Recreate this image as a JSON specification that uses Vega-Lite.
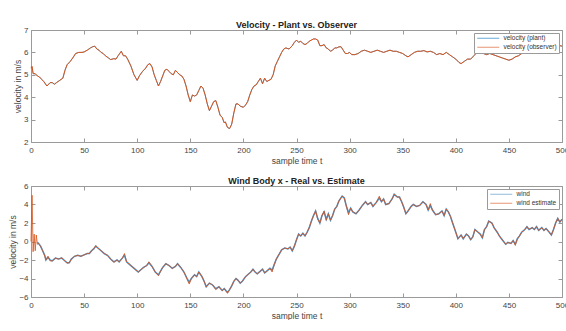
{
  "$schema": "https://vega.github.io/schema/vega-lite/v6.json",
  "padding": {"top": 21, "left": 8, "right": 0, "bottom": 0},
  "background": "white",
  "bounds": "flush",
  "spacing": 44,
  "datasets": {
    "vel": [
      {"t":0,"p":5.3,"o":5.3},{"t":1,"p":5.35,"o":5.38},{"t":2,"p":5.05,"o":5.05},{"t":4,"p":5.05,"o":5.05},{"t":6,"p":4.95,"o":4.95},{"t":8,"p":4.9,"o":4.9},{"t":10,"p":4.8,"o":4.8},{"t":12,"p":4.7,"o":4.7},{"t":15,"p":4.5,"o":4.5},{"t":18,"p":4.65,"o":4.65},{"t":20,"p":4.65,"o":4.65},{"t":22,"p":4.58,"o":4.58},{"t":24,"p":4.65,"o":4.65},{"t":27,"p":4.75,"o":4.75},{"t":30,"p":4.85,"o":4.85},{"t":32,"p":5.2,"o":5.2},{"t":34,"p":5.45,"o":5.45},{"t":37,"p":5.6,"o":5.6},{"t":40,"p":5.8,"o":5.8},{"t":42,"p":5.95,"o":5.95},{"t":45,"p":6.0,"o":6.0},{"t":48,"p":6.0,"o":6.0},{"t":50,"p":6.02,"o":6.02},{"t":53,"p":6.1,"o":6.1},{"t":56,"p":6.2,"o":6.2},{"t":58,"p":6.25,"o":6.25},{"t":60,"p":6.28,"o":6.28},{"t":62,"p":6.15,"o":6.15},{"t":64,"p":6.1,"o":6.1},{"t":66,"p":6.0,"o":6.0},{"t":68,"p":5.95,"o":5.95},{"t":70,"p":5.85,"o":5.85},{"t":73,"p":5.75,"o":5.75},{"t":75,"p":5.68,"o":5.68},{"t":78,"p":5.72,"o":5.72},{"t":80,"p":5.7,"o":5.7},{"t":82,"p":5.85,"o":5.85},{"t":85,"p":6.05,"o":6.05},{"t":87,"p":5.85,"o":5.85},{"t":89,"p":5.85,"o":5.85},{"t":91,"p":5.7,"o":5.7},{"t":94,"p":5.4,"o":5.4},{"t":97,"p":5.0,"o":5.0},{"t":100,"p":4.75,"o":4.75},{"t":102,"p":4.95,"o":4.95},{"t":105,"p":5.15,"o":5.15},{"t":108,"p":5.3,"o":5.3},{"t":110,"p":5.45,"o":5.45},{"t":112,"p":5.5,"o":5.5},{"t":114,"p":5.35,"o":5.35},{"t":116,"p":5.0,"o":5.0},{"t":118,"p":4.75,"o":4.75},{"t":120,"p":4.5,"o":4.5},{"t":122,"p":4.7,"o":4.7},{"t":124,"p":4.95,"o":4.95},{"t":126,"p":5.2,"o":5.2},{"t":128,"p":5.25,"o":5.25},{"t":130,"p":5.15,"o":5.15},{"t":132,"p":5.05,"o":5.05},{"t":134,"p":5.0,"o":5.0},{"t":136,"p":5.2,"o":5.2},{"t":138,"p":5.1,"o":5.1},{"t":140,"p":5.0,"o":5.0},{"t":142,"p":4.95,"o":4.95},{"t":144,"p":4.8,"o":4.8},{"t":146,"p":4.5,"o":4.5},{"t":148,"p":4.1,"o":4.1},{"t":150,"p":3.8,"o":3.8},{"t":152,"p":4.1,"o":4.1},{"t":154,"p":4.05,"o":4.05},{"t":156,"p":4.1,"o":4.1},{"t":158,"p":4.3,"o":4.3},{"t":160,"p":4.5,"o":4.5},{"t":162,"p":4.4,"o":4.4},{"t":164,"p":4.1,"o":4.1},{"t":166,"p":3.7,"o":3.7},{"t":168,"p":3.4,"o":3.4},{"t":170,"p":3.6,"o":3.6},{"t":172,"p":3.8,"o":3.8},{"t":174,"p":3.85,"o":3.85},{"t":176,"p":3.55,"o":3.55},{"t":178,"p":3.2,"o":3.2},{"t":180,"p":3.1,"o":3.1},{"t":182,"p":2.85,"o":2.85},{"t":183,"p":2.9,"o":2.9},{"t":185,"p":2.65,"o":2.65},{"t":187,"p":2.6,"o":2.6},{"t":189,"p":2.8,"o":2.8},{"t":191,"p":3.3,"o":3.3},{"t":193,"p":3.7,"o":3.7},{"t":195,"p":3.7,"o":3.7},{"t":197,"p":3.6,"o":3.6},{"t":200,"p":3.55,"o":3.55},{"t":202,"p":3.65,"o":3.65},{"t":204,"p":3.8,"o":3.8},{"t":206,"p":4.1,"o":4.1},{"t":208,"p":4.35,"o":4.35},{"t":210,"p":4.5,"o":4.5},{"t":212,"p":4.55,"o":4.55},{"t":214,"p":4.7,"o":4.7},{"t":216,"p":4.85,"o":4.85},{"t":218,"p":4.6,"o":4.6},{"t":220,"p":4.85,"o":4.85},{"t":222,"p":4.7,"o":4.7},{"t":224,"p":4.75,"o":4.75},{"t":226,"p":4.8,"o":4.8},{"t":228,"p":5.0,"o":5.0},{"t":230,"p":5.4,"o":5.4},{"t":232,"p":5.6,"o":5.6},{"t":234,"p":5.8,"o":5.8},{"t":236,"p":6.0,"o":6.0},{"t":238,"p":6.15,"o":6.15},{"t":240,"p":6.2,"o":6.2},{"t":243,"p":6.15,"o":6.15},{"t":246,"p":6.3,"o":6.3},{"t":248,"p":6.45,"o":6.45},{"t":250,"p":6.55,"o":6.55},{"t":252,"p":6.45,"o":6.45},{"t":254,"p":6.5,"o":6.5},{"t":256,"p":6.4,"o":6.4},{"t":258,"p":6.35,"o":6.35},{"t":260,"p":6.4,"o":6.4},{"t":262,"p":6.5,"o":6.5},{"t":264,"p":6.55,"o":6.55},{"t":266,"p":6.6,"o":6.6},{"t":268,"p":6.6,"o":6.6},{"t":270,"p":6.55,"o":6.55},{"t":272,"p":6.3,"o":6.3},{"t":274,"p":6.3,"o":6.3},{"t":276,"p":6.35,"o":6.35},{"t":278,"p":6.2,"o":6.2},{"t":280,"p":6.15,"o":6.15},{"t":282,"p":6.05,"o":6.05},{"t":284,"p":6.1,"o":6.1},{"t":286,"p":6.2,"o":6.2},{"t":288,"p":6.2,"o":6.2},{"t":290,"p":6.25,"o":6.25},{"t":292,"p":6.25,"o":6.25},{"t":294,"p":6.1,"o":6.1},{"t":296,"p":5.95,"o":5.95},{"t":298,"p":5.95,"o":5.95},{"t":300,"p":6.0,"o":6.0},{"t":302,"p":5.9,"o":5.9},{"t":305,"p":5.9,"o":5.9},{"t":308,"p":5.95,"o":5.95},{"t":311,"p":6.05,"o":6.05},{"t":314,"p":6.1,"o":6.1},{"t":317,"p":6.05,"o":6.05},{"t":320,"p":6.0,"o":6.0},{"t":323,"p":6.05,"o":6.05},{"t":326,"p":6.1,"o":6.1},{"t":329,"p":6.05,"o":6.05},{"t":332,"p":6.0,"o":6.0},{"t":335,"p":6.05,"o":6.05},{"t":338,"p":6.1,"o":6.1},{"t":341,"p":6.05,"o":6.05},{"t":344,"p":6.05,"o":6.05},{"t":347,"p":6.0,"o":6.0},{"t":350,"p":5.95,"o":5.95},{"t":353,"p":5.85,"o":5.85},{"t":355,"p":5.8,"o":5.8},{"t":358,"p":5.9,"o":5.9},{"t":361,"p":6.0,"o":6.0},{"t":364,"p":6.05,"o":6.05},{"t":367,"p":6.05,"o":6.05},{"t":370,"p":6.08,"o":6.08},{"t":373,"p":6.02,"o":6.02},{"t":376,"p":6.05,"o":6.05},{"t":379,"p":6.0,"o":6.0},{"t":382,"p":5.9,"o":5.9},{"t":385,"p":5.95,"o":5.95},{"t":388,"p":5.9,"o":5.9},{"t":391,"p":6.0,"o":6.0},{"t":394,"p":5.9,"o":5.9},{"t":397,"p":5.8,"o":5.8},{"t":400,"p":5.7,"o":5.7},{"t":403,"p":5.55,"o":5.55},{"t":405,"p":5.5,"o":5.5},{"t":408,"p":5.6,"o":5.6},{"t":411,"p":5.7,"o":5.7},{"t":414,"p":5.7,"o":5.7},{"t":417,"p":5.85,"o":5.85},{"t":420,"p":6.0,"o":6.0},{"t":423,"p":6.05,"o":6.05},{"t":426,"p":5.95,"o":5.95},{"t":429,"p":5.9,"o":5.9},{"t":432,"p":5.95,"o":5.95},{"t":435,"p":5.9,"o":5.9},{"t":438,"p":5.85,"o":5.85},{"t":441,"p":5.8,"o":5.8},{"t":444,"p":5.75,"o":5.75},{"t":447,"p":5.7,"o":5.7},{"t":450,"p":5.65,"o":5.65},{"t":453,"p":5.7,"o":5.7},{"t":456,"p":5.8,"o":5.8},{"t":459,"p":5.85,"o":5.85},{"t":462,"p":5.95,"o":5.95},{"t":465,"p":6.0,"o":6.0},{"t":468,"p":6.05,"o":6.05},{"t":471,"p":6.1,"o":6.1},{"t":474,"p":6.05,"o":6.05},{"t":477,"p":6.0,"o":6.0},{"t":480,"p":6.05,"o":6.05},{"t":483,"p":6.05,"o":6.05},{"t":486,"p":6.0,"o":6.0},{"t":489,"p":5.95,"o":5.95},{"t":492,"p":6.05,"o":6.05},{"t":494,"p":6.2,"o":6.2},{"t":496,"p":6.25,"o":6.25},{"t":498,"p":6.3,"o":6.3},{"t":500,"p":6.28,"o":6.28}
    ],
    "wind": [
      {"t":0,"w":0.3,"e":0.0},{"t":1,"e":5.0},{"t":2,"w":0.3,"e":-1.1},{"t":3,"e":0.8},{"t":4,"w":0.1,"e":-1.0},{"t":5,"e":0.7},{"t":6,"w":-0.1,"e":-0.3},{"t":7,"w":-0.2,"e":-0.2},{"t":9,"w":-0.5,"e":-0.5},{"t":11,"w":-1.0,"e":-1.0},{"t":13,"w":-1.5,"e":-1.6},{"t":14,"w":-2.0,"e":-2.0},{"t":16,"w":-1.7,"e":-1.6},{"t":18,"w":-2.0,"e":-2.1},{"t":20,"w":-2.1,"e":-2.1},{"t":23,"w":-1.8,"e":-1.8},{"t":26,"w":-1.9,"e":-1.9},{"t":29,"w":-1.8,"e":-1.75},{"t":31,"w":-2.0,"e":-2.0},{"t":34,"w":-2.3,"e":-2.35},{"t":36,"w":-2.3,"e":-2.3},{"t":38,"w":-1.9,"e":-1.9},{"t":41,"w":-1.6,"e":-1.6},{"t":44,"w":-1.5,"e":-1.5},{"t":47,"w":-1.6,"e":-1.6},{"t":50,"w":-1.45,"e":-1.45},{"t":53,"w":-1.3,"e":-1.3},{"t":55,"w":-1.3,"e":-1.3},{"t":57,"w":-1.0,"e":-1.0},{"t":59,"w":-0.8,"e":-0.8},{"t":61,"w":-0.5,"e":-0.45},{"t":63,"w":-0.7,"e":-0.7},{"t":66,"w":-1.0,"e":-1.0},{"t":69,"w":-1.3,"e":-1.3},{"t":72,"w":-1.5,"e":-1.5},{"t":75,"w":-1.9,"e":-1.9},{"t":78,"w":-2.2,"e":-2.25},{"t":81,"w":-2.0,"e":-2.0},{"t":83,"w":-2.2,"e":-2.2},{"t":86,"w":-1.8,"e":-1.8},{"t":88,"w":-1.5,"e":-1.3},{"t":90,"w":-2.2,"e":-2.2},{"t":93,"w":-2.5,"e":-2.5},{"t":96,"w":-2.8,"e":-2.8},{"t":99,"w":-3.1,"e":-3.1},{"t":101,"w":-3.3,"e":-3.3},{"t":104,"w":-3.0,"e":-3.0},{"t":106,"w":-2.8,"e":-2.8},{"t":109,"w":-2.6,"e":-2.6},{"t":111,"w":-2.3,"e":-2.2},{"t":114,"w":-2.7,"e":-2.7},{"t":117,"w":-3.3,"e":-3.3},{"t":120,"w":-3.6,"e":-3.7},{"t":122,"w":-3.2,"e":-3.2},{"t":124,"w":-2.8,"e":-2.8},{"t":127,"w":-2.4,"e":-2.4},{"t":130,"w":-2.6,"e":-2.6},{"t":133,"w":-2.9,"e":-2.9},{"t":136,"w":-2.7,"e":-2.7},{"t":138,"w":-2.4,"e":-2.4},{"t":141,"w":-2.8,"e":-2.8},{"t":144,"w":-3.3,"e":-3.3},{"t":147,"w":-4.0,"e":-4.1},{"t":149,"w":-4.4,"e":-4.6},{"t":151,"w":-4.0,"e":-4.0},{"t":154,"w":-3.6,"e":-3.6},{"t":156,"w":-3.8,"e":-3.8},{"t":158,"w":-3.3,"e":-3.3},{"t":161,"w":-3.8,"e":-3.8},{"t":163,"w":-4.3,"e":-4.3},{"t":165,"w":-4.9,"e":-4.9},{"t":168,"w":-4.5,"e":-4.5},{"t":171,"w":-4.7,"e":-4.7},{"t":174,"w":-5.1,"e":-5.2},{"t":177,"w":-4.9,"e":-4.9},{"t":180,"w":-5.3,"e":-5.3},{"t":182,"w":-5.1,"e":-5.1},{"t":185,"w":-5.5,"e":-5.6},{"t":187,"w":-5.2,"e":-5.2},{"t":189,"w":-4.8,"e":-4.8},{"t":191,"w":-4.3,"e":-4.3},{"t":193,"w":-4.0,"e":-4.0},{"t":195,"w":-4.2,"e":-4.2},{"t":197,"w":-4.5,"e":-4.5},{"t":199,"w":-4.3,"e":-4.3},{"t":202,"w":-3.8,"e":-3.8},{"t":204,"w":-3.6,"e":-3.6},{"t":207,"w":-3.3,"e":-3.3},{"t":209,"w":-3.0,"e":-3.0},{"t":211,"w":-3.3,"e":-3.3},{"t":213,"w":-3.5,"e":-3.5},{"t":216,"w":-3.2,"e":-3.2},{"t":218,"w":-3.0,"e":-3.0},{"t":220,"w":-3.4,"e":-3.4},{"t":222,"w":-3.2,"e":-3.2},{"t":225,"w":-2.9,"e":-2.9},{"t":227,"w":-3.1,"e":-3.3},{"t":229,"w":-2.5,"e":-2.5},{"t":231,"w":-1.9,"e":-1.9},{"t":234,"w":-1.3,"e":-1.3},{"t":236,"w":-0.9,"e":-0.9},{"t":239,"w":-0.7,"e":-0.7},{"t":242,"w":-0.8,"e":-0.8},{"t":244,"w":-0.6,"e":-0.6},{"t":246,"w":-1.0,"e":-1.0},{"t":248,"w":-0.5,"e":-0.5},{"t":250,"w":0.2,"e":0.2},{"t":252,"w":0.8,"e":0.8},{"t":254,"w":0.6,"e":0.6},{"t":256,"w":0.9,"e":0.9},{"t":258,"w":0.6,"e":0.6},{"t":260,"w":1.0,"e":1.0},{"t":262,"w":1.5,"e":1.5},{"t":264,"w":2.2,"e":2.2},{"t":266,"w":2.8,"e":2.8},{"t":268,"w":3.3,"e":3.3},{"t":270,"w":2.5,"e":2.4},{"t":272,"w":2.0,"e":2.0},{"t":274,"w":2.8,"e":2.8},{"t":276,"w":3.2,"e":3.3},{"t":278,"w":2.4,"e":2.3},{"t":280,"w":3.0,"e":3.0},{"t":282,"w":2.3,"e":2.3},{"t":284,"w":2.8,"e":2.8},{"t":286,"w":3.5,"e":3.5},{"t":288,"w":3.8,"e":3.8},{"t":290,"w":4.4,"e":4.4},{"t":293,"w":4.9,"e":4.9},{"t":295,"w":4.7,"e":4.7},{"t":297,"w":3.8,"e":3.8},{"t":299,"w":3.1,"e":2.9},{"t":301,"w":3.6,"e":3.6},{"t":303,"w":3.2,"e":3.2},{"t":306,"w":3.0,"e":3.0},{"t":309,"w":3.4,"e":3.4},{"t":312,"w":3.9,"e":3.9},{"t":315,"w":4.3,"e":4.3},{"t":317,"w":4.0,"e":4.0},{"t":320,"w":4.2,"e":4.2},{"t":322,"w":3.8,"e":3.8},{"t":325,"w":4.2,"e":4.2},{"t":328,"w":4.7,"e":4.9},{"t":330,"w":4.3,"e":4.3},{"t":332,"w":4.6,"e":4.6},{"t":334,"w":4.0,"e":4.0},{"t":337,"w":4.1,"e":4.1},{"t":340,"w":4.6,"e":4.6},{"t":342,"w":5.1,"e":5.1},{"t":345,"w":4.8,"e":4.8},{"t":347,"w":4.8,"e":4.8},{"t":349,"w":4.3,"e":4.3},{"t":351,"w":3.7,"e":3.7},{"t":353,"w":3.0,"e":3.0},{"t":355,"w":3.3,"e":3.3},{"t":358,"w":3.8,"e":3.8},{"t":360,"w":4.0,"e":4.0},{"t":363,"w":3.8,"e":3.8},{"t":366,"w":3.9,"e":3.9},{"t":369,"w":4.3,"e":4.3},{"t":372,"w":4.0,"e":4.0},{"t":374,"w":3.4,"e":3.4},{"t":376,"w":3.9,"e":4.1},{"t":378,"w":3.4,"e":3.4},{"t":381,"w":2.9,"e":2.9},{"t":384,"w":3.0,"e":3.0},{"t":387,"w":3.3,"e":3.3},{"t":389,"w":2.8,"e":2.8},{"t":391,"w":3.5,"e":3.5},{"t":393,"w":3.2,"e":3.2},{"t":395,"w":2.7,"e":2.7},{"t":397,"w":2.0,"e":2.0},{"t":400,"w":1.0,"e":1.0},{"t":402,"w":0.3,"e":0.3},{"t":405,"w":0.7,"e":0.7},{"t":407,"w":0.3,"e":0.3},{"t":410,"w":0.8,"e":0.8},{"t":412,"w":0.6,"e":0.6},{"t":414,"w":0.2,"e":0.2},{"t":416,"w":0.5,"e":0.5},{"t":418,"w":1.3,"e":1.3},{"t":421,"w":1.0,"e":1.0},{"t":423,"w":0.8,"e":0.8},{"t":425,"w":0.4,"e":0.4},{"t":427,"w":1.3,"e":1.3},{"t":429,"w":1.6,"e":1.6},{"t":431,"w":2.2,"e":2.2},{"t":434,"w":2.0,"e":2.0},{"t":436,"w":1.5,"e":1.5},{"t":439,"w":1.0,"e":1.0},{"t":441,"w":0.6,"e":0.6},{"t":443,"w":0.3,"e":0.3},{"t":445,"w":0.0,"e":0.0},{"t":447,"w":-0.3,"e":-0.3},{"t":449,"w":-0.1,"e":-0.1},{"t":452,"w":-0.2,"e":-0.2},{"t":454,"w":0.1,"e":0.1},{"t":456,"w":-0.3,"e":-0.4},{"t":458,"w":0.3,"e":0.3},{"t":460,"w":0.6,"e":0.6},{"t":462,"w":1.0,"e":1.0},{"t":465,"w":1.3,"e":1.3},{"t":467,"w":1.6,"e":1.6},{"t":469,"w":1.3,"e":1.3},{"t":472,"w":1.5,"e":1.5},{"t":474,"w":1.3,"e":1.3},{"t":476,"w":1.6,"e":1.6},{"t":478,"w":1.2,"e":1.2},{"t":481,"w":1.5,"e":1.5},{"t":483,"w":1.2,"e":1.2},{"t":485,"w":1.4,"e":1.4},{"t":488,"w":1.0,"e":1.0},{"t":490,"w":0.7,"e":0.7},{"t":492,"w":1.3,"e":1.3},{"t":494,"w":2.0,"e":2.0},{"t":496,"w":2.5,"e":2.5},{"t":498,"w":2.1,"e":2.1},{"t":500,"w":2.4,"e":2.4}
    ]
  },
  "vconcat": [
    {
      "title": "Velocity - Plant vs. Observer",
      "width": 531,
      "height": 112,
      "data": {"name": "vel"},
      "layer": [
        {
          "mark": {"type": "line", "strokeWidth": 0.6},
          "encoding": {
            "x": {"field": "t", "type": "quantitative", "scale": {"domain": [0, 500], "nice": false}, "axis": {"orient": "bottom", "title": "sample time t", "labelPadding": 8, "titlePadding": 2, "values": [0,50,100,150,200,250,300,350,400,450,500]}},
            "y": {"field": "p", "type": "quantitative", "scale": {"domain": [2, 7], "nice": false}, "axis": {"orient": "left", "title": "velocity in m/s", "values": [2,3,4,5,6,7]}},
            "color": {"datum": "velocity (plant)", "type": "nominal", "scale": {"domain": ["velocity (plant)", "velocity (observer)"], "range": ["#0072BD", "#D95319"]},
              "legend": {"title": null}}
          }
        },
        {
          "mark": {"type": "line", "strokeWidth": 1},
          "encoding": {
            "x": {"field": "t", "type": "quantitative", "axis": {"orient": "top", "title": null, "labels": false, "labelPadding": 0, "values": [0,50,100,150,200,250,300,350,400,450,500]}},
            "y": {"field": "o", "type": "quantitative", "axis": {"orient": "right", "title": null, "labels": false, "labelPadding": 0, "values": [2,3,4,5,6,7]}},
            "color": {"datum": "velocity (observer)", "type": "nominal"}
          }
        }
      ]
    },
    {
      "title": "Wind Body x - Real vs. Estimate",
      "width": 531,
      "height": 111,
      "data": {"name": "wind"},
      "layer": [
        {
          "mark": {"type": "line", "strokeWidth": 1.5},
          "encoding": {
            "x": {"field": "t", "type": "quantitative", "scale": {"domain": [0, 500], "nice": false}, "axis": {"orient": "bottom", "title": "sample time t", "labelPadding": 8, "titlePadding": 2, "values": [0,50,100,150,200,250,300,350,400,450,500]}},
            "y": {"field": "w", "type": "quantitative", "scale": {"domain": [-6, 6], "nice": false}, "axis": {"orient": "left", "title": "velocity in m/s", "values": [-6,-4,-2,0,2,4,6]}},
            "color": {"datum": "wind", "type": "nominal", "scale": {"domain": ["wind", "wind estimate"], "range": ["#4a90c8", "#D95319"]},
              "legend": {"title": null}}
          }
        },
        {
          "mark": {"type": "line", "strokeWidth": 0.8},
          "encoding": {
            "x": {"field": "t", "type": "quantitative", "axis": {"orient": "top", "title": null, "labels": false, "labelPadding": 0, "values": [0,50,100,150,200,250,300,350,400,450,500]}},
            "y": {"field": "e", "type": "quantitative", "axis": {"orient": "right", "title": null, "labels": false, "labelPadding": 0, "values": [-6,-4,-2,0,2,4,6]}},
            "color": {"datum": "wind estimate", "type": "nominal"}
          }
        }
      ]
    }
  ],
  "resolve": {"scale": {"color": "independent"}},
  "config": {
    "font": "Liberation Sans",
    "view": {"stroke": null},
    "axis": {
      "domainColor": "#9a9a9a",
      "tickColor": "#9a9a9a",
      "labelColor": "#444444",
      "titleColor": "#444444",
      "labelFontSize": 8,
      "titleFontSize": 8.5,
      "titleFontWeight": "normal",
      "grid": false,
      "tickSize": -4,
      "labelPadding": 7,
      "titlePadding": 1,
      "labelFlush": false
    },
    "title": {"fontSize": 9, "fontWeight": "bold", "color": "#222222", "offset": -4},
    "legend": {
      "orient": "top-right",
      "offset": 3,
      "padding": 2,
      "strokeColor": "#9a9a9a",
      "fillColor": "white",
      "labelFontSize": 6.5,
      "labelColor": "#333333",
      "symbolType": "M-5.5,0H5.5",
      "symbolSize": 16,
      "symbolStrokeWidth": 1,
      "symbolOpacity": 0.6,
      "symbolOffset": 9,
      "labelOffset": 12,
      "rowPadding": 2,
      "cornerRadius": 0
    }
  }
}
